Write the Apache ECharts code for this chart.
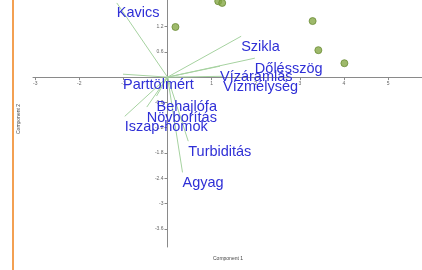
<!DOCTYPE html>
<html>
<head>
<meta charset="utf-8">
<script src="https://cdn.jsdelivr.net/npm/echarts@6/dist/echarts.min.js"></script>
<style>
  html, body { margin: 0; padding: 0; background: #fff; }
  #chart { width: 422px; height: 270px; }
</style>
</head>
<body>
<div id="chart"></div>
<script>
// score points (component 1, component 2)
const scoreX = [1.15, 1.24, 0.18, 3.29, 3.42, 4.01];
const scoreY = [1.80, 1.76, 1.19, 1.33, 0.64, 0.33];

// loading vectors
const varNames = ['Kavics', 'Szikla', 'Dőlésszög', 'Vízáramlás', 'Vízmélység', 'Parttölmért',
  'Behajlófa', 'Növborítás', 'Iszap-homok', 'Turbiditás', 'Agyag'];
const loadX = [-1.15, 1.67, 1.98, 1.19, 1.26, -1.01, -0.25, -0.47, -0.97, 0.47, 0.34];
const loadY = [1.76, 0.97, 0.45, 0.26, 0.02, 0.07, -0.45, -0.71, -0.93, -1.52, -2.26];

// tick labels
const xTicks = [-3, -2, -1, 1, 2, 3, 4, 5];
const yTicks = [1.2, 0.6, -0.6, -1.2, -1.8, -2.4, -3, -3.6];

const xMin = -3.05, xMax = 5.77;
const yMin = -4.03, yMax = 1.83;
const gridLeft = 33, gridRight = 0, gridTop = 0, gridBottom = 23;

const chart = echarts.init(document.getElementById('chart'));

// axes sit on the zero lines: push them inward with offset
const plotW = 422 - gridLeft - gridRight;
const plotH = 270 - gridTop - gridBottom;
const xOff = -plotH * (0 - yMin) / (yMax - yMin);
const yOff = -plotW * (0 - xMin) / (xMax - xMin);

const loadData = varNames.map((n, i) => [loadX[i], loadY[i], n]);
const scoreData = scoreX.map((x, i) => [x, scoreY[i]]);

const option = {
  animation: false,
  grid: { left: gridLeft, right: gridRight, top: gridTop, bottom: gridBottom },
  xAxis: {
    type: 'value',
    min: xMin,
    max: xMax,
    position: 'bottom',
    offset: xOff,
    axisLine: { onZero: false, lineStyle: { color: '#8a8a8a', width: 1 } },
    axisTick: { show: true, length: 3, customValues: xTicks, lineStyle: { color: '#8a8a8a' } },
    axisLabel: { customValues: xTicks, fontSize: 5, color: '#666', margin: 4, fontFamily: 'Liberation Sans' },
    splitLine: { show: false }
  },
  yAxis: {
    type: 'value',
    min: yMin,
    max: yMax,
    position: 'left',
    offset: yOff,
    axisLine: { onZero: false, lineStyle: { color: '#8a8a8a', width: 1 } },
    axisTick: { show: true, length: 3, customValues: yTicks, lineStyle: { color: '#8a8a8a' } },
    axisLabel: { customValues: yTicks, fontSize: 5, color: '#666', margin: 4, fontFamily: 'Liberation Sans' },
    splitLine: { show: false }
  },
  series: [
    {
      type: 'custom',
      data: loadData,
      z: 3,
      renderItem: function (params, api) {
        const o = api.coord([0, 0]);
        const p = api.coord([api.value(0), api.value(1)]);
        return {
          type: 'group',
          children: [
            {
              type: 'line',
              shape: { x1: o[0], y1: o[1], x2: p[0], y2: p[1] },
              style: { stroke: '#a6d2a0', lineWidth: 1 }
            },
            {
              type: 'text',
              z2: 10,
              style: {
                x: p[0],
                y: p[1] + 3,
                text: loadData[params.dataIndex][2],
                fill: '#2f2fd6',
                font: '14.5px "Liberation Sans", Arial, sans-serif',
                align: 'left',
                verticalAlign: 'top'
              }
            }
          ]
        };
      }
    },
    {
      type: 'scatter',
      data: scoreData,
      z: 4,
      symbolSize: 7,
      itemStyle: { color: '#86a846', borderColor: '#6a8c34', borderWidth: 1 }
    }
  ],
  graphic: [
    {
      type: 'rect',
      shape: { x: 12, y: 0, width: 2, height: 270 },
      style: { fill: '#f3a052' }
    },
    {
      type: 'text',
      left: 213,
      top: 256,
      style: { text: 'Component 1', fontSize: 5, fill: '#444', fontFamily: 'Liberation Sans' }
    },
    {
      type: 'text',
      x: 16,
      y: 134,
      rotation: Math.PI / 2,
      style: { text: 'Component 2', fontSize: 5, fill: '#444', fontFamily: 'Liberation Sans' }
    }
  ]
};

chart.setOption(option);
</script>
</body>
</html>
